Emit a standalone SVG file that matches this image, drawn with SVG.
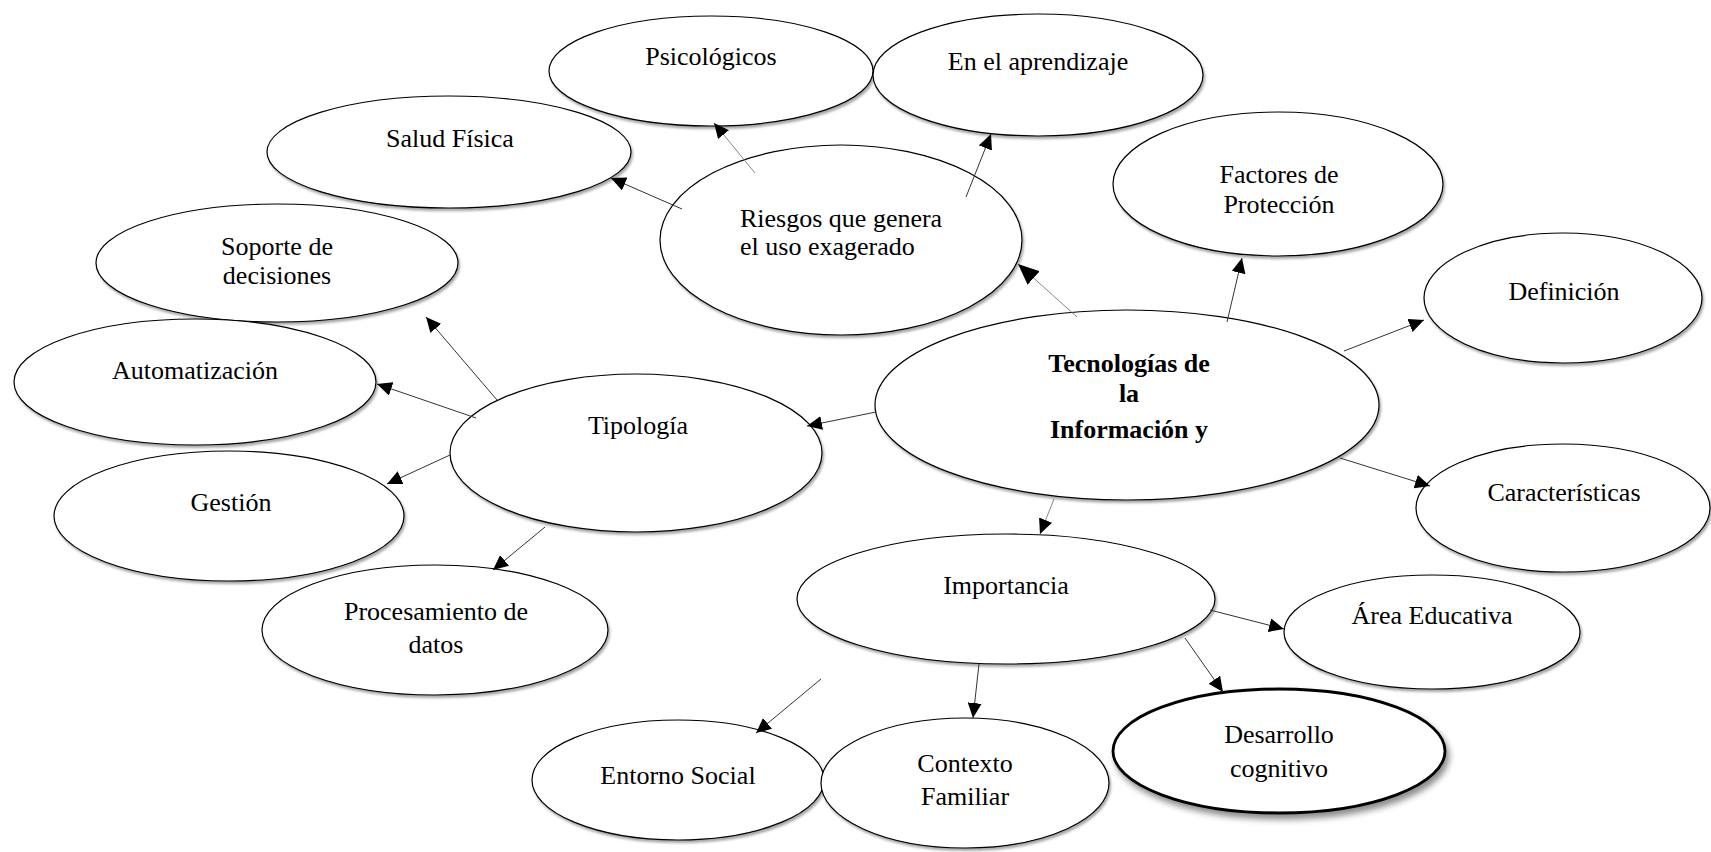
<svg xmlns="http://www.w3.org/2000/svg" width="1711" height="852" viewBox="0 0 1711 852">
<style>
.n{fill:#fff;stroke:#000;stroke-width:1.2;filter:url(#sh)}
.n2{fill:#fff;stroke:#000;stroke-width:2.8;filter:url(#sh2)}
.t{font-family:"Liberation Serif","Times New Roman",serif;font-size:26px;fill:#000;text-anchor:middle}
.l{text-anchor:start}
.b{font-weight:bold}
.c{stroke:#333;stroke-width:1;fill:none;marker-end:url(#ah)}
.g{stroke:#888}
.big{marker-end:url(#ahb)}
</style>
<defs>
<filter id="sh" x="-10%" y="-10%" width="120%" height="130%">
<feDropShadow dx="1.5" dy="2.5" stdDeviation="1" flood-color="#000" flood-opacity="0.35"/>
</filter>
<filter id="sh2" x="-10%" y="-10%" width="125%" height="140%">
<feDropShadow dx="3" dy="5" stdDeviation="3" flood-color="#000" flood-opacity="0.45"/>
</filter>
<marker id="ah" markerUnits="userSpaceOnUse" markerWidth="16" markerHeight="14" refX="15" refY="7" orient="auto">
<path d="M0,0 L15,7 L0,14 z" fill="#000"/>
</marker>
<marker id="ahb" markerUnits="userSpaceOnUse" markerWidth="22" markerHeight="18" refX="21" refY="9" orient="auto">
<path d="M0,0 L21,9 L0,18 z" fill="#000"/>
</marker>
</defs>
<rect width="1711" height="852" fill="#fff"/>

<g id="psicologicos"><ellipse class="n" cx="711" cy="71" rx="162" ry="55"/><text class="t" x="711" y="65">Psicológicos</text></g>
<g id="aprendizaje"><ellipse class="n" cx="1038" cy="75" rx="165" ry="61"/><text class="t" x="1038" y="70">En el aprendizaje</text></g>
<g id="salud"><ellipse class="n" cx="449" cy="152" rx="182" ry="56"/><text class="t" x="450" y="147">Salud Física</text></g>
<g id="riesgos"><ellipse class="n" cx="841" cy="240" rx="181" ry="95"/><text class="t l" x="740" y="227">Riesgos que genera</text><text class="t l" x="740" y="255">el uso exagerado</text></g>
<g id="factores"><ellipse class="n" cx="1278" cy="184" rx="165" ry="72"/><text class="t" x="1279" y="183">Factores de</text><text class="t" x="1279" y="213">Protección</text></g>
<g id="definicion"><ellipse class="n" cx="1563" cy="298" rx="139" ry="65"/><text class="t" x="1564" y="300">Definición</text></g>
<g id="soporte"><ellipse class="n" cx="277" cy="263" rx="181" ry="59"/><text class="t" x="277" y="255">Soporte de</text><text class="t" x="277" y="284">decisiones</text></g>
<g id="automatizacion"><ellipse class="n" cx="195" cy="382" rx="181" ry="63"/><text class="t" x="195" y="379">Automatización</text></g>
<g id="tipologia"><ellipse class="n" cx="636" cy="453" rx="186" ry="79"/><text class="t" x="638" y="434">Tipología</text></g>
<g id="tecnologias"><ellipse class="n" cx="1127" cy="405" rx="252" ry="95"/><text class="t b" x="1129" y="372">Tecnologías de</text><text class="t b" x="1129" y="402">la</text><text class="t b" x="1129" y="438">Información y</text></g>
<g id="caracteristicas"><ellipse class="n" cx="1563" cy="508" rx="147" ry="64"/><text class="t" x="1564" y="501">Características</text></g>
<g id="gestion"><ellipse class="n" cx="229" cy="516" rx="175" ry="65"/><text class="t" x="231" y="511">Gestión</text></g>
<g id="importancia"><ellipse class="n" cx="1006" cy="599" rx="209" ry="65"/><text class="t" x="1006" y="594">Importancia</text></g>
<g id="area"><ellipse class="n" cx="1432" cy="632" rx="148" ry="57"/><text class="t" x="1432" y="624">Área Educativa</text></g>
<g id="procesamiento"><ellipse class="n" cx="435" cy="630" rx="173" ry="65"/><text class="t" x="436" y="620">Procesamiento de</text><text class="t" x="436" y="653">datos</text></g>
<g id="desarrollo"><ellipse class="n2" cx="1279" cy="751" rx="166" ry="62"/><text class="t" x="1279" y="743">Desarrollo</text><text class="t" x="1279" y="777">cognitivo</text></g>
<g id="entorno"><ellipse class="n" cx="678" cy="780" rx="146" ry="60"/><text class="t" x="678" y="784">Entorno Social</text></g>
<g id="contexto"><ellipse class="n" cx="965" cy="783" rx="144" ry="65"/><text class="t" x="965" y="772">Contexto</text><text class="t" x="965" y="805">Familiar</text></g>

<g id="connectors">
<path class="c g" d="M755,173 L714,123"/>
<path class="c" d="M966,197 L991,134"/>
<path class="c" d="M682,209 L611,178"/>
<path class="c g big" d="M1077,317 L1018,264"/>
<path class="c" d="M1227,322 L1242,258"/>
<path class="c" d="M1344,351 L1424,320"/>
<path class="c" d="M1340,458 L1430,486"/>
<path class="c" d="M876,412 L807,426"/>
<path class="c g" d="M1054,499 L1040,534"/>
<path class="c" d="M497,400 L426,317"/>
<path class="c" d="M476,418 L377,384"/>
<path class="c" d="M450,455 L387,484"/>
<path class="c" d="M545,527 L493,570"/>
<path class="c" d="M1210,610 L1284,629"/>
<path class="c" d="M1185,638 L1223,692"/>
<path class="c" d="M979,664 L973,718"/>
<path class="c" d="M821,679 L756,733"/>
</g>
</svg>
